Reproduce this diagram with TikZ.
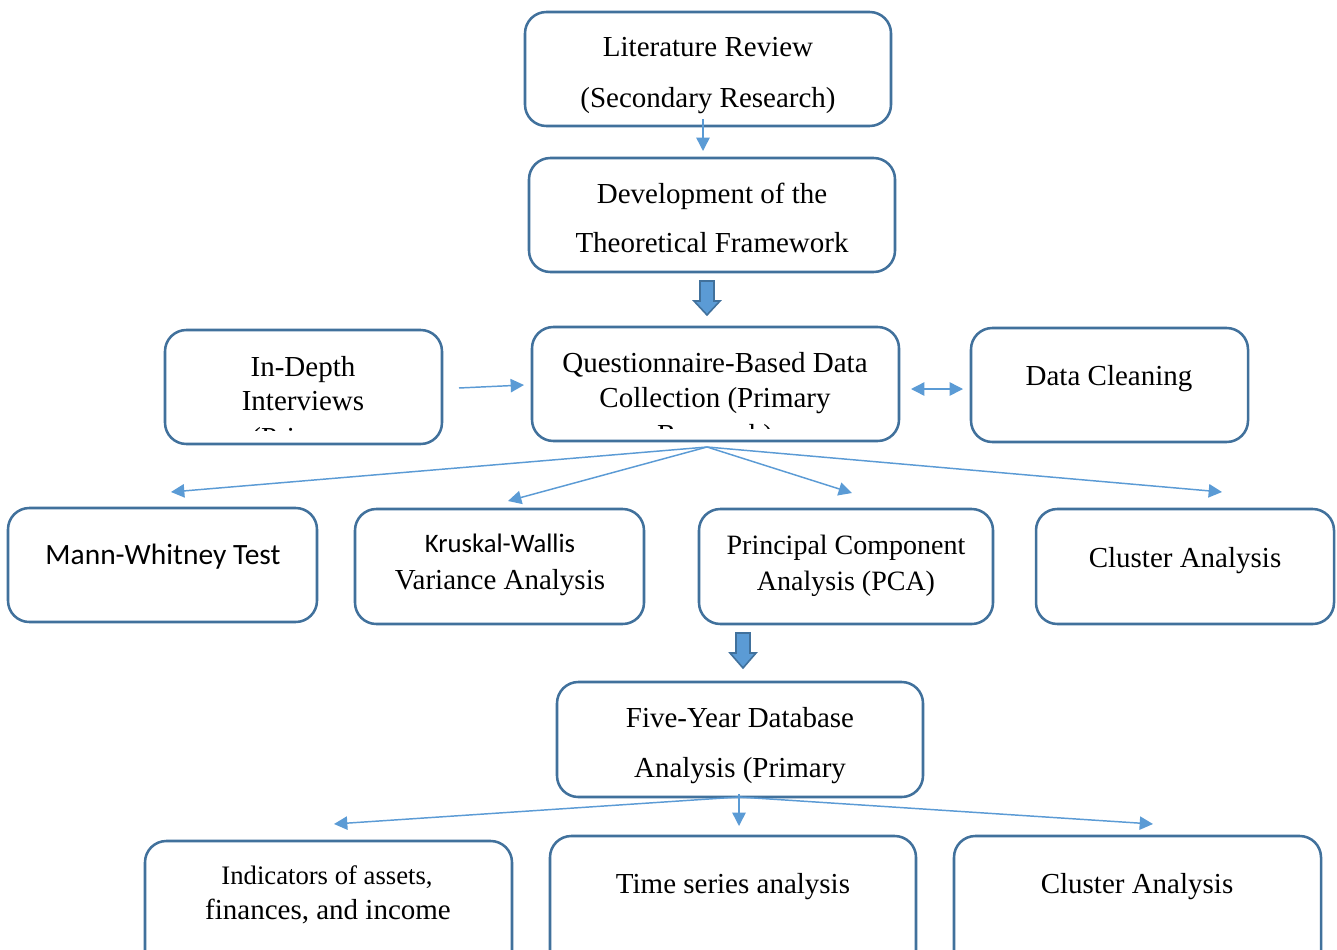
\documentclass[tikz,border=0pt]{standalone}
\usepackage{fontspec}
\setmainfont{Liberation Serif}
\newfontfamily\calibrifont{Carlito}
\usetikzlibrary{arrows.meta,fit}
\definecolor{boxblue}{RGB}{65,113,156}
\definecolor{arrblue}{RGB}{91,155,213}
\newcommand\myfs{\fontsize{21.75pt}{26pt}\selectfont}
\newcommand\mysmallfs{\fontsize{20pt}{24pt}\selectfont}
\begin{document}
\begin{tikzpicture}[x=0.75pt,y=-0.75pt,
  box/.style={draw=boxblue, line width=1.9pt, rounded corners=16pt, inner sep=0pt},
  txt/.style={anchor=base, inner sep=0pt, font=\myfs},
  txtsans/.style={anchor=base, inner sep=0pt, font=\calibrifont\fontsize{22.1pt}{26pt}\selectfont},
  txtsmall/.style={anchor=base, inner sep=0pt, font=\mysmallfs},
  arr/.style={draw=arrblue, line width=1.1pt, -{Triangle[length=10pt,width=10pt]}},
  dblarr/.style={draw=arrblue, line width=1.1pt, {Triangle[length=10pt,width=10pt]}-{Triangle[length=10pt,width=10pt]}},
  blockarr/.style={draw=boxblue, fill=arrblue, line width=1.2pt, line join=miter}
]
\clip (0,0) rectangle (1337,949);
\fill[white] (0,0) rectangle (1337,949);

% boxes
\node[box, fit={(525,12) (891,126)}] (lit) {};
\node[box, fit={(529,158) (895,272)}] (dev) {};
\node[box, fit={(165,330) (442,444)}] (ind) {};
\node[box, fit={(532,327) (899,441)}] (qbd) {};
\node[box, fit={(971,328) (1248,442)}] (clean) {};
\node[box, fit={(8,508) (317,622)}] (mw) {};
\node[box, fit={(355,509) (644,624)}] (kw) {};
\node[box, fit={(699,509) (993,624)}] (pca) {};
\node[box, fit={(1036,509) (1334,624)}] (clu) {};
\node[box, fit={(557,682) (923,797)}] (fy) {};
\node[box, fit={(145,841) (512,975)}] (indic) {};
\node[box, fit={(550,836) (916,975)}] (ts) {};
\node[box, fit={(954,836) (1321,975)}] (clu2) {};

% texts
\node[txt] (lit1) at (708,57) {Literature Review};
\node[txt] (lit2) at (708,107) {(Secondary Research)};
\node[txt] (dev1) at (712,203) {Development of the};
\node[txt] (dev2) at (712,252) {Theoretical Framework};
\node[txt] (ind1) at (303,376) {In-Depth};
\node[txt] (ind2) at (303,410) {Interviews};
\begin{scope}
\clip (170,335) rectangle (437,430);
\node[txt] (ind3) at (303,447) {(Primary};
\end{scope}
\node[txt] (qbd1) at (715,372) {Questionnaire-Based Data};
\node[txt] (qbd2) at (715,407) {Collection (Primary};
\begin{scope}
\clip (537,332) rectangle (894,428);
\node[txt] (qbd3) at (715,444) {Research)};
\end{scope}
\node[txt] (clean1) at (1109,385) {Data Cleaning};
\node[txtsans] (mw1) at (163,564) {Mann-Whitney Test};
\node[txtsans, font=\calibrifont\mysmallfs] (kw1) at (500,552) {Kruskal-Wallis};
\node[txt] (kw2) at (500,589) {Variance Analysis};
\node[txt, font=\fontsize{21pt}{25pt}\selectfont] (pca1) at (846,554) {Principal Component};
\node[txt, font=\fontsize{21pt}{25pt}\selectfont] (pca2) at (846,590) {Analysis (PCA)};
\node[txt] (clu1) at (1185,567) {Cluster Analysis};
\node[txt] (fy1) at (740,727) {Five-Year Database};
\node[txt] (fy2) at (740,777) {Analysis (Primary};
\node[txtsmall] (indic1) at (327,884) {Indicators of assets,};
\node[txt] (indic2) at (328,919) {finances, and income};
\node[txt] (ts1) at (733,893) {Time series analysis};
\node[txt] (clu2t) at (1137,893) {Cluster Analysis};

% connector coordinates
\coordinate (litout) at (703,119);
\coordinate (devin) at (703,151);
\coordinate (indout) at (459,388);
\coordinate (qbdin) at (524,385);
\coordinate (qbdr) at (911,389);
\coordinate (cleanl) at (963,389);
\coordinate (qfan) at (707,447);
\coordinate (mwin) at (171,492);
\coordinate (kwin) at (508,501);
\coordinate (pcain) at (852,493);
\coordinate (cluin) at (1222,492);
\coordinate (ffan) at (739,797);
\coordinate (fydown) at (739,794);
\coordinate (indicin) at (334,824);
\coordinate (tsin) at (739,826);
\coordinate (clu2in) at (1153,824);

% connectors
\draw[arr] (litout) -- (devin);
\draw[arr] (indout) -- (qbdin);
\draw[dblarr] (qbdr) -- (cleanl);
\draw[arr] (qfan) -- (mwin);
\draw[arr] (qfan) -- (kwin);
\draw[arr] (qfan) -- (pcain);
\draw[arr] (qfan) -- (cluin);
\draw[arr] (ffan) -- (indicin);
\draw[arr] (fydown) -- (tsin);
\draw[arr] (ffan) -- (clu2in);

% block arrows
\draw[blockarr] (700,281) -- (714,281) -- (714,301) -- (720,301) -- (707,315) -- (694,301) -- (700,301) -- cycle;
\draw[blockarr] (736,633) -- (750,633) -- (750,653) -- (756,653) -- (743,668) -- (730,653) -- (736,653) -- cycle;
\end{tikzpicture}
\end{document}
